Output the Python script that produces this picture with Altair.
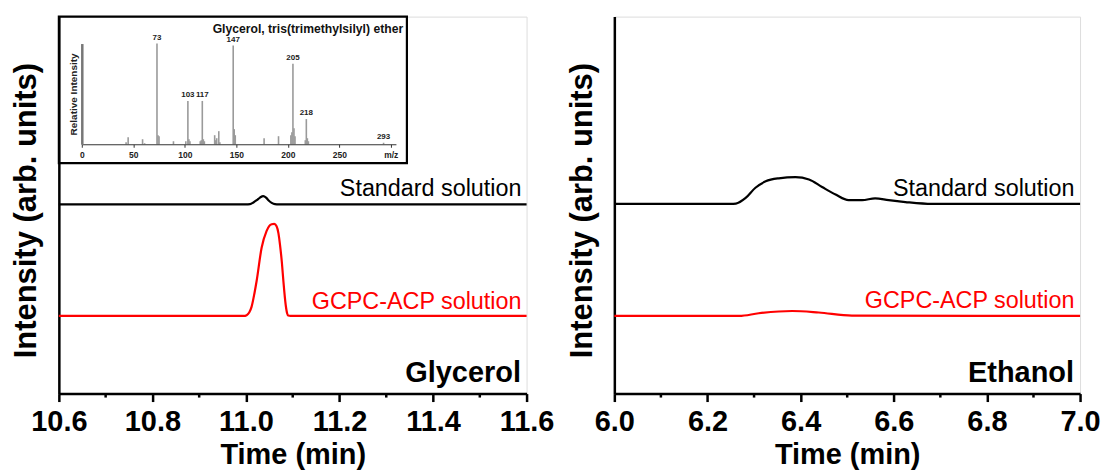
import altair as alt
import pandas as pd

FONT = "Liberation Sans"

# ---------------- data ----------------
# Glycerol chromatogram (left panel)
gly_std_t = [10.6, 11.0, 11.0087, 11.016, 11.023, 11.030, 11.037, 11.043, 11.048, 11.055, 11.062, 11.07, 11.6]
gly_std_i = [50.2, 50.2, 50.25, 50.7, 51.3, 52.0, 52.4, 52.0, 51.3, 50.6, 50.25, 50.2, 50.2]
gly_gcpc_t = [10.6, 10.995, 11.0015, 11.007, 11.012, 11.018, 11.023, 11.0335, 11.044, 11.050, 11.055,
              11.0605, 11.0655, 11.0695, 11.0727, 11.077, 11.080, 11.085, 11.088, 11.0904, 11.095, 11.6]
gly_gcpc_i = [20.6, 20.6, 20.8, 21.5, 23.0, 26.5, 30.0, 38.7, 43.1, 44.5, 44.9,
              45.0, 44.4, 42.5, 39.6, 34.5, 29.9, 23.5, 21.3, 20.7, 20.6, 20.6]

# Ethanol chromatogram (right panel)
eth_std_t = [6.0, 6.25, 6.261, 6.282, 6.303, 6.325, 6.353, 6.389, 6.418, 6.446, 6.475, 6.503,
             6.532, 6.560, 6.589, 6.625, 6.682, 7.0]
eth_std_i = [50.3, 50.3, 50.4, 51.9, 54.6, 56.3, 57.1, 57.4, 56.8, 54.8, 52.8, 51.3,
             51.3, 51.8, 51.3, 50.8, 50.3, 50.3]
eth_gcpc_t = [6.0, 6.268, 6.310, 6.382, 6.439, 6.510, 7.0]
eth_gcpc_i = [20.6, 20.6, 21.3, 21.9, 21.5, 20.7, 20.6]

series_names = ["Standard solution", "GCPC-ACP solution"]
panel_names = ["Glycerol", "Ethanol"]
inset_title = ["Glycerol, tris(trimethylsilyl) ether"]

# Mass spectrum inset
ms_mz = [43, 45, 59, 61, 73, 74, 75, 89, 101, 103, 104, 105, 115, 116, 117, 118, 119,
         129, 130, 131, 133, 134, 147, 148, 149, 177, 191, 203, 204, 205, 206, 207,
         217, 218, 219, 220, 293]
ms_int = [2, 7, 5, 1, 100, 9, 8, 3, 3, 43, 5, 3, 3, 4, 43, 5, 3,
          9, 4, 6, 13, 2, 98, 15, 9, 6, 8, 9, 12, 80, 16, 8,
          4, 25, 6, 3, 1.5]
ms_label_mz = [73, 103, 117, 147, 205, 218, 293]

gly_major = [10.6, 10.8, 11.0, 11.2, 11.4, 11.6]
gly_minor = [10.7, 10.9, 11.1, 11.3, 11.5]
eth_major = [6.0, 6.2, 6.4, 6.6, 6.8, 7.0]
eth_minor = [6.1, 6.3, 6.5, 6.7, 6.9]
ms_ticks = [0, 25, 50, 75, 100, 125, 150, 175, 200, 225, 250, 275, 300]

# ---------------- frames ----------------
def curve_df(t1, i1, t2, i2):
    return pd.DataFrame({
        "t": t1 + t2,
        "i": i1 + i2,
        "s": [series_names[0]] * len(t1) + [series_names[1]] * len(t2),
    })


gly_df = curve_df(gly_std_t, gly_std_i, gly_gcpc_t, gly_gcpc_i)
eth_df = curve_df(eth_std_t, eth_std_i, eth_gcpc_t, eth_gcpc_i)
ms_df = pd.DataFrame({"mz": ms_mz, "int": ms_int})
lab_df = ms_df[ms_df["mz"].isin(ms_label_mz)].copy()
lab_df["txt"] = lab_df["mz"].astype(str)

W_L, W_R, H = 469, 467, 378
color_scale = alt.Scale(domain=series_names, range=["#000000", "#ff0000"])


def one(text):
    return pd.DataFrame({"label": [text]})


def main_panel(df, major, minor, domain, name, width, txt_x, y_std, y_gcpc, name_x):
    x_axis = alt.Axis(
        values=major, format=".1f",
        tickSize=8, tickColor="black", tickWidth=2.5, domainColor="black", domainWidth=2.5,
        labelFont=FONT, labelFontSize=29, labelFontWeight="bold", labelColor="black",
        labelPadding=6, labelFlush=False, labelOverlap=False, grid=False,
        title="Time (min)", titleFont=FONT, titleFontSize=29, titleFontWeight="bold",
        titleColor="black", titlePadding=4,
    )
    y_axis = alt.Axis(
        labels=False, ticks=False, grid=False, domainColor="black", domainWidth=2.5,
        title="Intensity (arb. units)", titleFont=FONT, titleFontSize=31, titleFontWeight="bold",
        titleColor="black", titlePadding=16, titleY=H / 2 + 5,
    )
    xs = alt.Scale(domain=domain, nice=False, zero=False)
    ys = alt.Scale(domain=[0, 100], nice=False, zero=False)
    lines = alt.Chart(df).mark_line(interpolate="monotone", strokeWidth=2.2).encode(
        x=alt.X("t:Q", scale=xs, axis=x_axis),
        y=alt.Y("i:Q", scale=ys, axis=y_axis),
        color=alt.Color("s:N", scale=color_scale, legend=None),
        detail="s:N",
    )
    minor_ticks = alt.Chart(pd.DataFrame({"t": minor})).mark_rule(
        color="black", strokeWidth=2.5).encode(
        x=alt.X("t:Q", scale=xs),
        y=alt.value(H), y2=alt.value(H + 4))
    t1 = alt.Chart(one(series_names[0])).mark_text(
        align="right", baseline="alphabetic", font=FONT, fontSize=23.4, color="black").encode(
        x=alt.datum(txt_x), y=alt.datum(y_std), text="label:N")
    t2 = alt.Chart(one(series_names[1])).mark_text(
        align="right", baseline="alphabetic", font=FONT, fontSize=23.4, color="#ff0000").encode(
        x=alt.datum(txt_x), y=alt.datum(y_gcpc), text="label:N")
    t3 = alt.Chart(one(name)).mark_text(
        align="right", baseline="alphabetic", font=FONT, fontSize=29,
        fontWeight="bold", color="black").encode(
        x=alt.datum(name_x), y=alt.datum(3.0), text="label:N")
    return alt.layer(lines, minor_ticks, t1, t2, t3).properties(width=width, height=H)


left_main = main_panel(gly_df, gly_major, gly_minor, [10.6, 11.6], panel_names[0], W_L,
                       11.589, 52.4, 22.5, 11.588)
right_main = main_panel(eth_df, eth_major, eth_minor, [6.0, 7.0], panel_names[1], W_R,
                        6.988, 52.4, 22.7, 6.987)

# ---------------- inset ----------------
ms_x_scale = alt.Scale(domain=[0, 305], range=[23, 338], nice=False, zero=False)
ms_y_scale = alt.Scale(domain=[0, 100], range=[128, 27], nice=False, zero=False)

ms_x_axis = alt.Axis(
    orient="bottom", offset=-250, values=ms_ticks, zindex=1,
    labelExpr="datum.value == 300 ? 'm/z' : (datum.value % 50 == 0 ? format(datum.value, 'd') : '')",
    tickSize=3, tickColor="#333333", tickWidth=1, domainColor="#333333", domainWidth=1,
    labelFont=FONT, labelFontSize=8.5, labelFontWeight="bold", labelColor="#222222",
    labelPadding=3, labelFlush=False, labelOverlap=False, grid=False, title=None,
)
ms_y_axis = alt.Axis(
    orient="left", offset=-23, labels=False, ticks=False, grid=False, zindex=1,
    domainColor="#777777", domainWidth=2.5,
    title="Relative Intensity", titleFont=FONT, titleFontSize=10, titleFontWeight="bold",
    titleColor="#222222", titlePadding=3,
)

box = alt.Chart(one("inset")).mark_rect(fillOpacity=0, stroke="black", strokeWidth=2.2).encode(
    x=alt.value(0), x2=alt.value(349), y=alt.value(0), y2=alt.value(147))

peaks = alt.Chart(ms_df).mark_rule(color="#9a9a9a", strokeWidth=1.6).encode(
    x=alt.X("mz:Q", scale=ms_x_scale, axis=ms_x_axis),
    y=alt.Y("int:Q", scale=ms_y_scale, axis=ms_y_axis),
    y2=alt.datum(0),
)
peak_labels = alt.Chart(lab_df).mark_text(baseline="alphabetic", dy=-4, font=FONT, fontSize=8,
                                          fontWeight="bold", color="#222222").encode(
    x=alt.X("mz:Q", scale=ms_x_scale),
    y=alt.Y("int:Q", scale=ms_y_scale),
    text="txt:N",
)
ms_title = alt.Chart(one(inset_title[0])).mark_text(
    align="right", baseline="alphabetic", font=FONT, fontSize=12.2,
    fontWeight="bold", color="#111111").encode(
    x=alt.X("x:Q", scale=ms_x_scale), y=alt.Y("y:Q", scale=ms_y_scale),
    text="label:N",
).transform_calculate(x="312", y="110")
inset = alt.layer(peaks, peak_labels, ms_title)

left = alt.layer(left_main, box, inset).resolve_scale(x="independent", y="independent")

chart = alt.hconcat(left, right_main, spacing=11).resolve_scale(
    x="independent", y="independent").properties(
    padding={"left": 2, "top": 6, "right": 0, "bottom": 0}
).configure_view(stroke="black", strokeWidth=2.5).configure(background="white")

chart.save("out.html", embed_options={"renderer": "svg", "actions": False})
